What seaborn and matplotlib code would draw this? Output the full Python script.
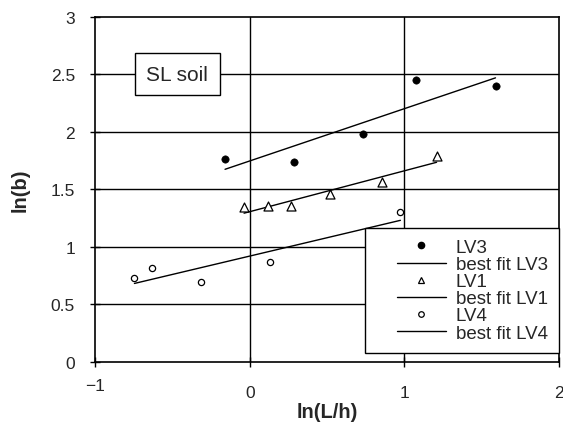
import numpy as np
import pandas as pd
import seaborn as sns
from matplotlib import pyplot as plt
from matplotlib.lines import Line2D
from matplotlib.legend_handler import HandlerLine2D
import matplotlib.transforms as mtransforms

# valori
lv3_x = [-0.16, 0.286, 0.733, 1.073, 1.589]
lv3_y = [1.76, 1.74, 1.98, 2.455, 2.40]
lv1_x = [-0.037, 0.118, 0.265, 0.516, 0.854, 1.208]
lv1_y = [1.342, 1.359, 1.359, 1.461, 1.563, 1.789]
lv4_x = [-0.746, -0.632, -0.316, 0.131, 0.974]
lv4_y = [0.730, 0.815, 0.696, 0.864, 1.304]

x_ticks = [-1, 0, 1, 2]
y_ticks = [0, 0.5, 1, 1.5, 2, 2.5, 3]

sns.set_style("white")
plt.rcParams['font.family'] = ['Liberation Sans', 'DejaVu Sans']

fig = plt.figure(figsize=(5.63, 4.35), dpi=100)
ax = fig.add_axes([0.169, 0.166, 0.824, 0.793])


def fit_line(xs, ys):
    # retta di regressione sul range dei dati
    k, q = np.polyfit(xs, ys, 1)
    xx = np.array([min(xs), max(xs)])
    return pd.DataFrame({'x': xx, 'y': k * xx + q})


series = [
    ('LV3', lv3_x, lv3_y, dict(marker='o', s=28, color='black', edgecolor='black')),
    ('LV1', lv1_x, lv1_y, dict(marker='^', s=42, facecolor='white', edgecolor='black', linewidth=0.9)),
    ('LV4', lv4_x, lv4_y, dict(marker='o', s=20, facecolor='white', edgecolor='black', linewidth=0.9)),
]

for name, xs, ys, kw in series:
    df = pd.DataFrame({'x': xs, 'y': ys})
    fit = fit_line(xs, ys)
    sns.lineplot(data=fit, x='x', y='y', ax=ax, color='black', linewidth=1.0, zorder=3)
    sns.scatterplot(data=df, x='x', y='y', ax=ax, zorder=4, **kw)

ax.set_xlim(-1, 2)
ax.set_ylim(0, 3)
ax.set_xticks(x_ticks)
ax.set_xticklabels(['\u22121', '0', '1', '2'])
ax.set_yticks(y_ticks)
ax.set_yticklabels(['0', '0.5', '1', '1.5', '2', '2.5', '3'])
ax.tick_params(axis='both', direction='inout', length=7, width=1, color='black',
               labelsize=12.5, bottom=True, left=True)
ax.tick_params(axis='y', pad=11)
ax.tick_params(axis='x', pad=13)
# il "-1" nell'originale sta un po' piu in alto
lab0 = ax.get_xticklabels()[0]
lab0.set_transform(lab0.get_transform() +
                   mtransforms.ScaledTranslation(0, 5 / 72, fig.dpi_scale_trans))

# griglia
ax.grid(False)
for yv in y_ticks[1:-1]:
    ax.axhline(yv, color='black', linewidth=1, zorder=1)
for xv in [0, 1]:
    ax.axvline(xv, color='black', linewidth=1, zorder=1)
for sp in ax.spines.values():
    sp.set_color('black')
    sp.set_linewidth(1.2)

ax.set_xlabel('ln(L/h)', fontsize=14.5, fontweight='bold', labelpad=2)
ax.set_ylabel('ln(b)', fontsize=14.5, fontweight='bold', labelpad=15)

ax.text(-0.47, 2.5, 'SL soil', fontsize=15, ha='center', va='center', zorder=5,
        bbox=dict(boxstyle='square,pad=0.55', facecolor='white', edgecolor='black', linewidth=1))

handles = [
    Line2D([], [], linestyle='none', marker='o', markersize=4.5, color='black'),
    Line2D([], [], color='black', linewidth=1),
    Line2D([], [], linestyle='none', marker='^', markersize=5, markerfacecolor='white',
           markeredgecolor='black', markeredgewidth=0.9),
    Line2D([], [], color='black', linewidth=1),
    Line2D([], [], linestyle='none', marker='o', markersize=4, markerfacecolor='white',
           markeredgecolor='black', markeredgewidth=0.9),
    Line2D([], [], color='black', linewidth=1),
]
labels = ['LV3', 'best fit LV3', 'LV1', 'best fit LV1', 'LV4', 'best fit LV4']
hmap = {h: HandlerLine2D(xpad=1.12) for h in handles}
leg = ax.legend(handles, labels, loc='lower right', bbox_to_anchor=(1.0, 0.026),
                fontsize=13.5, frameon=True, fancybox=False, framealpha=1,
                edgecolor='black', labelspacing=0.0, handlelength=3.73,
                handletextpad=0.53, borderpad=0.6, borderaxespad=0, handler_map=hmap)
leg.get_frame().set_linewidth(1)
leg.set_zorder(6)

fig.savefig('out.png', dpi=100)
